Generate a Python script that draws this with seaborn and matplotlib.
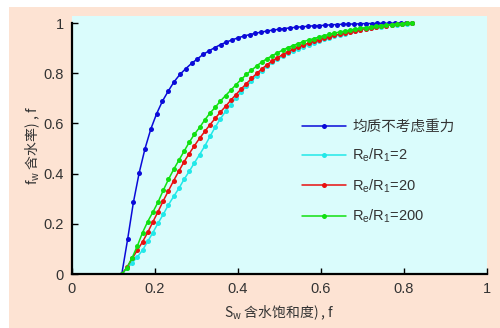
import numpy as np
import matplotlib
matplotlib.use('Agg')
import matplotlib.pyplot as plt
from matplotlib.patches import Rectangle
import seaborn as sns

# saturation grid of the homogeneous curve
sw_blue = [0.120, 0.134, 0.148, 0.162, 0.176, 0.190, 0.204, 0.218, 0.232, 0.246,
           0.260, 0.274, 0.288, 0.302, 0.316, 0.330, 0.344, 0.358, 0.372, 0.386,
           0.400, 0.414, 0.428, 0.442, 0.456, 0.470, 0.484, 0.498, 0.512, 0.526,
           0.540, 0.554, 0.568, 0.582, 0.596, 0.610, 0.624, 0.638, 0.652, 0.666,
           0.680, 0.694, 0.708, 0.722, 0.736, 0.750, 0.764, 0.778, 0.792, 0.806,
           0.820]
fw_blue = [0.000, 0.138, 0.286, 0.404, 0.500, 0.578, 0.639, 0.689, 0.729, 0.766,
           0.795, 0.818, 0.839, 0.857, 0.875, 0.889, 0.902, 0.914, 0.924, 0.933,
           0.941, 0.948, 0.954, 0.959, 0.964, 0.968, 0.972, 0.975, 0.978, 0.981,
           0.983, 0.985, 0.987, 0.989, 0.990, 0.991, 0.993, 0.994, 0.995, 0.996,
           0.996, 0.997, 0.998, 0.998, 0.999, 0.999, 0.999, 1.000, 1.000, 1.000,
           1.000]

# saturation grid of the Re/R1 curves
sw_r = [0.1200, 0.1325, 0.1450, 0.1575, 0.1700, 0.1825, 0.1950, 0.2075, 0.2200, 0.2325,
        0.2450, 0.2575, 0.2700, 0.2825, 0.2950, 0.3075, 0.3200, 0.3325, 0.3450, 0.3575,
        0.3700, 0.3825, 0.3950, 0.4075, 0.4200, 0.4325, 0.4450, 0.4575, 0.4700, 0.4825,
        0.4950, 0.5075, 0.5200, 0.5325, 0.5450, 0.5575, 0.5700, 0.5825, 0.5950, 0.6075,
        0.6200, 0.6325, 0.6450, 0.6575, 0.6700, 0.6825, 0.6950, 0.7075, 0.7200, 0.7325,
        0.7450, 0.7575, 0.7700, 0.7825, 0.7950, 0.8075, 0.8200]
fw_r2 = [0.000, 0.022, 0.045, 0.068, 0.095, 0.130, 0.165, 0.203, 0.238, 0.276,
         0.309, 0.341, 0.377, 0.409, 0.443, 0.476, 0.510, 0.548, 0.585, 0.618,
         0.648, 0.675, 0.702, 0.726, 0.748, 0.769, 0.790, 0.810, 0.828, 0.843,
         0.856, 0.868, 0.879, 0.889, 0.898, 0.906, 0.914, 0.921, 0.928, 0.935,
         0.941, 0.947, 0.953, 0.958, 0.963, 0.968, 0.972, 0.976, 0.980, 0.983,
         0.986, 0.989, 0.992, 0.994, 0.996, 0.998, 1.000]
fw_r20 = [0.000, 0.027, 0.062, 0.095, 0.128, 0.166, 0.208, 0.249, 0.292, 0.332,
          0.372, 0.410, 0.447, 0.480, 0.511, 0.541, 0.568, 0.595, 0.620, 0.645,
          0.668, 0.692, 0.715, 0.737, 0.758, 0.779, 0.799, 0.817, 0.834, 0.849,
          0.862, 0.874, 0.885, 0.895, 0.904, 0.912, 0.920, 0.927, 0.934, 0.940,
          0.946, 0.951, 0.956, 0.961, 0.966, 0.970, 0.974, 0.978, 0.981, 0.984,
          0.987, 0.990, 0.993, 0.995, 0.997, 0.999, 1.000]
fw_r200 = [0.000, 0.025, 0.065, 0.112, 0.165, 0.209, 0.247, 0.287, 0.334, 0.377,
           0.417, 0.453, 0.489, 0.525, 0.557, 0.584, 0.614, 0.641, 0.664, 0.689,
           0.711, 0.732, 0.754, 0.775, 0.795, 0.812, 0.829, 0.845, 0.858, 0.870,
           0.881, 0.892, 0.902, 0.910, 0.918, 0.926, 0.932, 0.938, 0.944, 0.950,
           0.955, 0.960, 0.964, 0.968, 0.972, 0.976, 0.979, 0.982, 0.985, 0.988,
           0.990, 0.992, 0.994, 0.996, 0.998, 0.999, 1.000]

labels = ['均质不考虑重力', r'R$_e$/R$_1$=2', r'R$_e$/R$_1$=20', r'R$_e$/R$_1$=200']
colors = ['#0a0ad8', '#22e8e8', '#e81010', '#10e010']
ticks = [0, 0.2, 0.4, 0.6, 0.8, 1.0]
tick_labels = ['0', '0.2', '0.4', '0.6', '0.8', '1']

sns.set_style('ticks')
plt.rcParams['font.family'] = ['Liberation Sans', 'Noto Sans CJK SC']
plt.rcParams['mathtext.default'] = 'regular'

fig = plt.figure(figsize=(5, 3.28), dpi=100, facecolor='white')
fig.patches.append(Rectangle((9 / 500, 0), 491 / 500, 321 / 328, transform=fig.transFigure,
                             facecolor='#fde3d3', edgecolor='none', zorder=-10))
ax = fig.add_axes([72 / 500, 54 / 328, 415 / 500, 258 / 328])
ax.set_facecolor('#dafcfc')

series = [(sw_blue, fw_blue), (sw_r, fw_r2), (sw_r, fw_r20), (sw_r, fw_r200)]
for (x, y), lab, c in zip(series, labels, colors):
    sns.lineplot(x=x, y=y, ax=ax, color=c, marker='o', markersize=3.6,
                 markeredgewidth=0, linewidth=1.1, label=lab, sort=False)

ax.set_xlim(0, 1)
ax.set_ylim(0, 1.028)
ax.set_xticks(ticks)
ax.set_xticklabels(tick_labels)
ax.set_yticks(ticks)
ax.set_yticklabels(tick_labels)
ax.tick_params(direction='in', length=4, width=1, labelsize=10.5, colors='#333333', pad=6)
ax.tick_params(axis='both', color='black')
for side in ['top', 'right']:
    ax.spines[side].set_visible(False)
for side in ['left', 'bottom']:
    ax.spines[side].set_linewidth(1.6)
    ax.spines[side].set_color('black')
ax.spines['left'].set_bounds(0, 1)

# CJK font first so the mathtext subscript and the Chinese both render
cjk = 'Noto Sans CJK SC'
ax.set_xlabel('S$_w$ 含水饱和度) , f', fontsize=10, color='#333333', labelpad=5, family=cjk)
ax.set_ylabel('f$_w$ 含水率) , f', fontsize=10, color='#333333', labelpad=1, family=cjk)

ax.legend(loc='upper left', bbox_to_anchor=(0.554, 0.598), frameon=False, fontsize=10.5,
          handlelength=3.0, handletextpad=0.45, labelspacing=0.9, labelcolor='#333333',
          borderpad=0, borderaxespad=0)

fig.savefig('out.png', dpi=100, facecolor=fig.get_facecolor())
